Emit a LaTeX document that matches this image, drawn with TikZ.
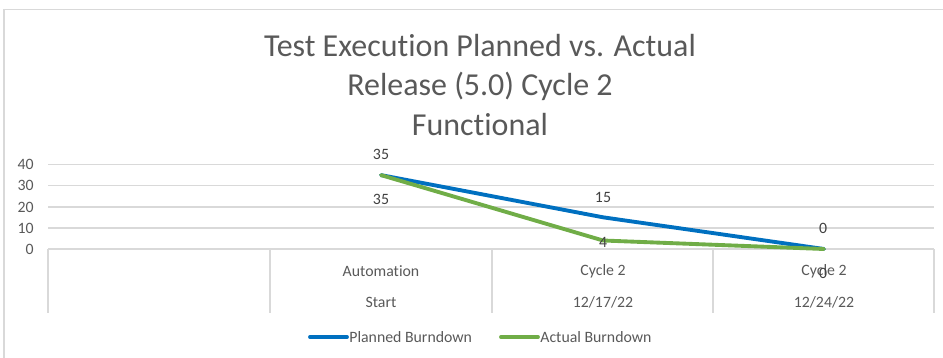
\documentclass[tikz,border=0pt]{standalone}
\usepackage{fontspec}
\setmainfont{Carlito}[RawFeature={-liga;-calt;-clig;-dlig}]
\definecolor{planned}{HTML}{0070C0}
\definecolor{actual}{HTML}{70AD47}
\definecolor{gridgray}{HTML}{D9D9D9}
\definecolor{txtgray}{HTML}{595959}
\definecolor{lblgray}{HTML}{404040}
\tikzset{
  gridline/.style = {gridgray, line width=0.8pt},
  tick/.style = {txtgray, font=\fontsize{9}{11}\selectfont, anchor=east, inner sep=0pt},
  catlbl/.style = {txtgray, font=\fontsize{9}{11}\selectfont, inner sep=0pt},
  datalbl/.style = {lblgray, font=\fontsize{9}{11}\selectfont, inner sep=0pt},
  series/.style = {line width=2.2pt, line join=round, line cap=round}
}
\begin{document}
\begin{tikzpicture}[x=0.02cm, y=-0.02cm]
\useasboundingbox (0,0) rectangle (943,358);

\draw[gridgray, line width=1pt] (4,358) -- (4,9.5) -- (943,9.5); % chart frame

% title
\node[txtgray, font=\fontsize{18.2}{22.7}\selectfont, align=center, inner sep=0pt] (title) at (480,85)
  {Test Execution Planned vs. Actual\\Release (5.0) Cycle 2\\Functional};

% value axis
\foreach \v/\y in {0/249, 10/228, 20/207, 30/185.5, 40/164.5} {
  \draw[gridline] (48,\y) -- (934,\y);
  \node[tick] (t\v) at (34,\y) {\v};
}

% category table
\foreach \x in {48, 270, 492, 713, 934}
  \draw[gridline] (\x,249) -- (\x,313);
\node[catlbl] (c1a) at (381,271) {Automation};
\node[catlbl] (c1b) at (381,302) {Start};
\node[catlbl] (c2a) at (603,271) {Cycle 2};
\node[catlbl] (c2b) at (603,302) {12/17/22};
\node[catlbl] (c3a) at (824,271) {Cycle 2};
\node[catlbl] (c3b) at (824,302) {12/24/22};

% data points
\coordinate (p1) at (381,175.1);
\coordinate (p2) at (603,217.3);
\coordinate (p3) at (824,249);
\coordinate (a1) at (381,175.1);
\coordinate (a2) at (603,240.5);
\coordinate (a3) at (824,249);

\draw[series, planned] (p1) -- (p2) -- (p3); % planned burndown
\draw[series, actual] (a1) -- (a2) -- (a3); % actual burndown

\node[datalbl] (lp1) at (381,154) {35};
\node[datalbl] (lp2) at (603,197) {15};
\node[datalbl] (lp3) at (823,228) {0};
\node[datalbl] (la1) at (381,199) {35};
\node[datalbl] (la2) at (603,242) {4};
\node[datalbl] (la3) at (823,273) {0};

% legend
\coordinate (lg1) at (310,337);
\coordinate (lg2) at (347,337);
\draw[series, planned] (lg1) -- (lg2);
\node[catlbl, anchor=west] (lgp) at (349,337) {Planned Burndown};
\coordinate (lg3) at (501,337);
\coordinate (lg4) at (538,337);
\draw[series, actual] (lg3) -- (lg4);
\node[catlbl, anchor=west] (lga) at (540,337) {Actual Burndown};
\end{tikzpicture}
\end{document}
